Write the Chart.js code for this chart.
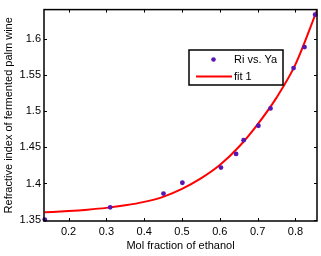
<!DOCTYPE html>
<html>
<head>
<meta charset="utf-8">
<script src="https://cdn.jsdelivr.net/npm/chart.js@4/dist/chart.umd.min.js"></script>
<style>
  body { margin: 0; background: #fff; }
  canvas { display: block; }
</style>
</head>
<body>
<canvas id="chart-1" width="321" height="256"></canvas>
<script>
// measured points (mol fraction of ethanol vs refractive index)
const molFraction = [0.137, 0.31, 0.451, 0.501, 0.603, 0.643, 0.663, 0.702, 0.734, 0.795, 0.824, 0.852];
const refIndex = [1.350, 1.367, 1.386, 1.401, 1.422, 1.441, 1.460, 1.480, 1.504, 1.560, 1.589, 1.634];

// fitted curve
const fitX = [0.137, 0.2, 0.25, 0.3, 0.35, 0.4, 0.45, 0.5, 0.55, 0.6, 0.65, 0.7, 0.75, 0.8, 0.857];
const fitY = [1.360, 1.3618, 1.3637, 1.3662, 1.3697, 1.3745, 1.3815, 1.3925, 1.407, 1.4255, 1.4505, 1.482, 1.519, 1.565, 1.640];

const xTicks = [0.2, 0.3, 0.4, 0.5, 0.6, 0.7, 0.8];
const yTicks = [1.35, 1.4, 1.45, 1.5, 1.55, 1.6];

const seriesNames = ["Ri vs. Ya", "fit 1"];

const FONT = "'Liberation Sans', Arial, sans-serif";
const dotColor = "rgb(88, 22, 178)";
const lineColor = "rgb(255, 0, 0)";

const framePlugin = {
  id: "frame",
  afterDraw(chart) {
    const c = chart.ctx;
    const a = chart.chartArea;
    const xs = chart.scales.x, ys = chart.scales.y;
    c.save();
    c.strokeStyle = "#000";
    c.lineWidth = 1.5;
    c.strokeRect(a.left, a.top, a.right - a.left, a.bottom - a.top);
    c.lineWidth = 1;
    c.beginPath();
    xTicks.forEach(v => {
      const px = Math.round(xs.getPixelForValue(v)) + 0.5;
      c.moveTo(px, a.bottom); c.lineTo(px, a.bottom - 3);
      c.moveTo(px, a.top); c.lineTo(px, a.top + 3);
    });
    yTicks.forEach(v => {
      const py = Math.round(ys.getPixelForValue(v)) + 0.5;
      c.moveTo(a.left, py); c.lineTo(a.left + 3, py);
      c.moveTo(a.right, py); c.lineTo(a.right - 3, py);
    });
    c.stroke();

    // legend box inside the plot
    c.fillStyle = "#fff";
    c.fillRect(189, 50, 94, 35);
    c.lineWidth = 1.5;
    c.strokeRect(189, 50, 94, 35);
    c.fillStyle = dotColor;
    c.beginPath();
    c.arc(213.5, 59.5, 2.3, 0, Math.PI * 2);
    c.fill();
    c.strokeStyle = lineColor;
    c.lineWidth = 2;
    c.beginPath();
    c.moveTo(196, 76.5); c.lineTo(232, 76.5);
    c.stroke();
    c.fillStyle = "#000";
    c.font = "11px " + FONT;
    c.textBaseline = "middle";
    c.textAlign = "left";
    c.fillText(seriesNames[0], 234, 60);
    c.fillText(seriesNames[1], 234, 77);
    c.restore();
  }
};

const ctx1 = document.getElementById("chart-1").getContext("2d");
const myChart = new Chart(ctx1, {
  type: "scatter",
  data: {
    datasets: [
      {
        label: seriesNames[0],
        data: molFraction.map((x, i) => ({ x: x, y: refIndex[i] })),
        backgroundColor: dotColor,
        borderColor: dotColor,
        pointRadius: 2.4,
        pointBorderWidth: 0,
        showLine: false,
        clip: false,
        order: 1,
      },
      {
        label: seriesNames[1],
        data: fitX.map((x, i) => ({ x: x, y: fitY[i] })),
        borderColor: lineColor,
        borderWidth: 2,
        showLine: true,
        pointRadius: 0,
        cubicInterpolationMode: "monotone",
        order: 2,
      },
    ],
  },
  options: {
    responsive: false,
    animation: false,
    layout: { padding: { top: 9, right: 4, left: 0, bottom: 0 } },
    plugins: { legend: { display: false }, tooltip: { enabled: false } },
    scales: {
      x: {
        type: "linear",
        min: 0.135,
        max: 0.857,
        afterBuildTicks: s => { s.ticks = xTicks.map(v => ({ value: v })); },
        afterFit: s => { s.height = 35; },
        grid: { display: false, drawTicks: false },
        border: { display: false },
        ticks: {
          color: "#000",
          font: { family: FONT, size: 11 },
          padding: 4,
          maxRotation: 0,
          callback: v => String(v),
        },
        title: {
          display: true,
          text: "Mol fraction of ethanol",
          color: "#000",
          font: { family: FONT, size: 11 },
          padding: { top: 0, bottom: 3 },
        },
      },
      y: {
        type: "linear",
        min: 1.348,
        max: 1.641,
        afterBuildTicks: s => { s.ticks = yTicks.map(v => ({ value: v })); },
        afterFit: s => { s.width = 44; },
        grid: { display: false, drawTicks: false },
        border: { display: false },
        ticks: {
          color: "#000",
          font: { family: FONT, size: 11 },
          padding: 3,
          callback: v => String(v),
        },
        title: {
          display: true,
          text: "Refractive index of fermented palm wine",
          color: "#000",
          font: { family: FONT, size: 11 },
          padding: { top: 2, bottom: 0 },
        },
      },
    },
  },
  plugins: [framePlugin],
});
</script>
</body>
</html>
